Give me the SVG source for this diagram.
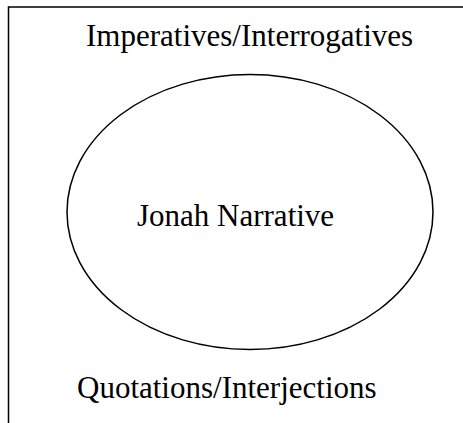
<svg xmlns="http://www.w3.org/2000/svg" width="463" height="423" viewBox="0 0 463 423">
<style>
.ln{stroke:#000;stroke-width:1.5;fill:none}
.t{font-family:"Liberation Serif","Times New Roman",serif;font-size:31px;fill:#000}
</style>
<rect width="463" height="423" fill="#fff"/>
<g id="frame">
<path class="ln" d="M8.5,423 V7 H463"/>
</g>
<g id="top-label"><text class="t" x="86" y="46">Imperatives/Interrogatives</text></g>
<g id="jonah"><ellipse class="ln" cx="250" cy="212" rx="183" ry="137.5"/><text class="t" x="137" y="226">Jonah Narrative</text></g>
<g id="bottom-label"><text class="t" x="77" y="398">Quotations/Interjections</text></g>
<g id="connectors"></g>
</svg>
